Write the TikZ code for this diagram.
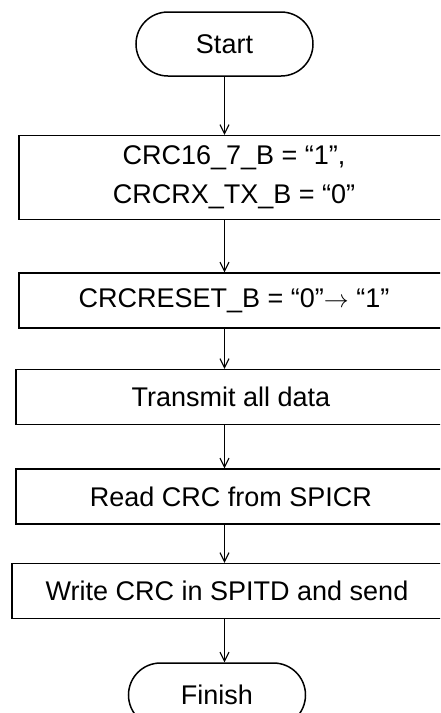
\documentclass[tikz,border=0pt]{standalone}
\usepackage{fontspec}
\setmainfont{Liberation Sans}
\usetikzlibrary{positioning, arrows.meta}

\begin{document}
\begin{tikzpicture}[
  x=1pt, y=1pt,
  terminal/.style={
    draw, line width=1.5pt, rounded corners=32pt,
    minimum width=177pt, minimum height=64pt,
    font=\fontsize{27}{39}\selectfont
  },
  process/.style={
    draw, line width=1.5pt, align=center,
    minimum width=430pt, minimum height=55pt,
    font=\fontsize{27}{39}\selectfont
  },
  flow/.style={
    -{Straight Barb[length=9pt, width=9pt]}, line width=1.1pt
  },
]

% visible frame
\useasboundingbox (-224.5,44) rectangle (215.5,-669);
\clip (-224.5,44) rectangle (215.5,-669);

% flow steps
\node[terminal] (start) {Start};
\node[process, below=58pt of start, xshift=9.5pt, minimum height=84pt] (setmode)
  {CRC16\_7\_B = “1”,\\CRCRX\_TX\_B = “0”};
\node[process, below=52pt of setmode] (reset) {CRCRESET\_B = “0”$\rightarrow$ “1”};
\node[process, below=40pt of reset, xshift=-3pt] (transmit) {Transmit all data};
\node[process, below=43pt of transmit] (readcrc) {Read CRC from SPICR};
\node[process, below=38pt of readcrc, xshift=-4pt] (sendcrc) {Write CRC in SPITD and send};
\node[terminal, below=43pt of sendcrc, xshift=-10pt] (finish) {Finish};

% connectors
\draw[flow] (start) -- (start |- setmode.north);
\foreach \a/\b in {setmode/reset, reset/transmit, transmit/readcrc,
  readcrc/sendcrc, sendcrc/finish} {
  \draw[flow] (start |- \a.south) -- (start |- \b.north);
}

\end{tikzpicture}
\end{document}
